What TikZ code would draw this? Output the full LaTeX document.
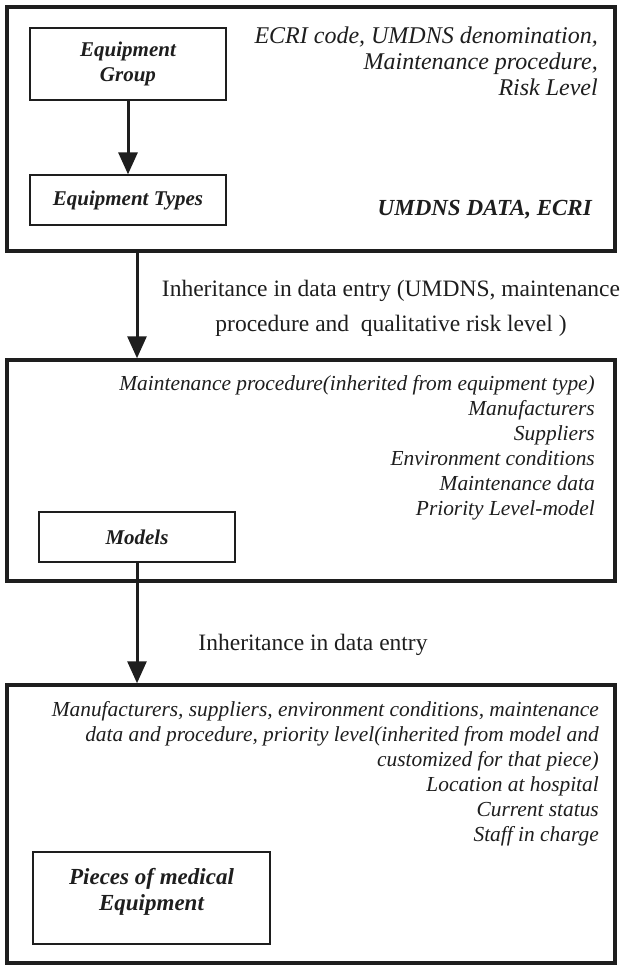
\documentclass[tikz,border=0pt]{standalone}
\usepackage{fontspec}
\setmainfont{Liberation Serif}
\usetikzlibrary{arrows.meta}
\definecolor{ink}{HTML}{1E1E1E}
\begin{document}
\begin{tikzpicture}[x=1pt,y=-1pt,
  frame/.style={draw=ink,line width=3.5pt,rectangle,inner sep=0pt,minimum width=608pt},
  entity/.style={draw=ink,line width=1.3pt,align=center,inner sep=0pt,
    font=\fontsize{21}{25}\selectfont\bfseries\itshape,text=ink},
  attr/.style={anchor=base east,inner sep=0pt,font=\fontsize{21.4}{25}\selectfont\itshape,text=ink},
  bigattr/.style={attr,font=\fontsize{24}{27}\selectfont\itshape},
  battr/.style={attr,font=\fontsize{23}{27}\selectfont\bfseries\itshape},
  note/.style={anchor=base,inner sep=0pt,font=\fontsize{23.5}{35}\selectfont,text=ink},
  flow/.style={draw=ink,line width=3pt,-{Triangle[width=19pt,length=22pt]}}
]
\useasboundingbox (0,0) rectangle (622,966);
\fill[white] (0,0) rectangle (622,966);

% three level frames
\node[frame,minimum height=244pt] (f1) at (311,129) {};
\node[frame,minimum height=221pt] (f2) at (311,470.5) {};
\node[frame,minimum height=278pt] (f3) at (311,824) {};

% level 1: groups and types
\node[entity,minimum width=196pt,minimum height=72pt] (group) at (128,64) {Equipment\\Group};
\node[entity,minimum width=196pt,minimum height=50pt] (types) at (128,200) {Equipment Types};
\draw[flow] (group.south) -- (types.north);

\node[bigattr] (g1) at (598,44) {ECRI code, UMDNS denomination,};
\node[bigattr] (g2) at (598,69.5) {Maintenance procedure,};
\node[bigattr] (g3) at (598,95) {Risk Level};
\node[battr] (src) at (592,215) {UMDNS DATA, ECRI};

% level 2: models
\node[entity,minimum width=196pt,minimum height=50pt] (models) at (137,537) {Models};
\draw[flow] (f1.south -| models.north) -- (f2.north -| models.north);
\node[note] (n1a) at (391,296) {Inheritance in data entry (UMDNS, maintenance};
\node[note] (n1b) at (391,331) {procedure and~~qualitative risk level )};

\node[attr] (m1) at (595,390) {Maintenance procedure(inherited from equipment type)};
\node[attr] (m2) at (595,415) {Manufacturers};
\node[attr] (m3) at (595,440) {Suppliers};
\node[attr] (m4) at (595,465) {Environment conditions};
\node[attr] (m5) at (595,490) {Maintenance data};
\node[attr] (m6) at (595,515) {Priority Level-model};

% level 3: individual pieces
\draw[flow] (models.south) -- (f3.north -| models.south);
\node[note] (n2) at (313,650) {Inheritance in data entry};

\node[attr] (p1) at (599,716) {Manufacturers, suppliers, environment conditions, maintenance};
\node[attr] (p2) at (599,741) {data and procedure, priority level(inherited from model and};
\node[attr] (p3) at (599,766) {customized for that piece)};
\node[attr] (p4) at (599,791) {Location at hospital};
\node[attr] (p5) at (599,816) {Current status};
\node[attr] (p6) at (599,841) {Staff in charge};

\node[entity,minimum width=237pt,minimum height=92pt] (pieces) at (151.5,898) {};
\node[align=center,inner sep=0pt,text=ink,
  font=\fontsize{23}{26}\selectfont\bfseries\itshape] (piecestext) at (pieces.center) [yshift=6pt] {Pieces of medical\\Equipment};
\end{tikzpicture}
\end{document}
